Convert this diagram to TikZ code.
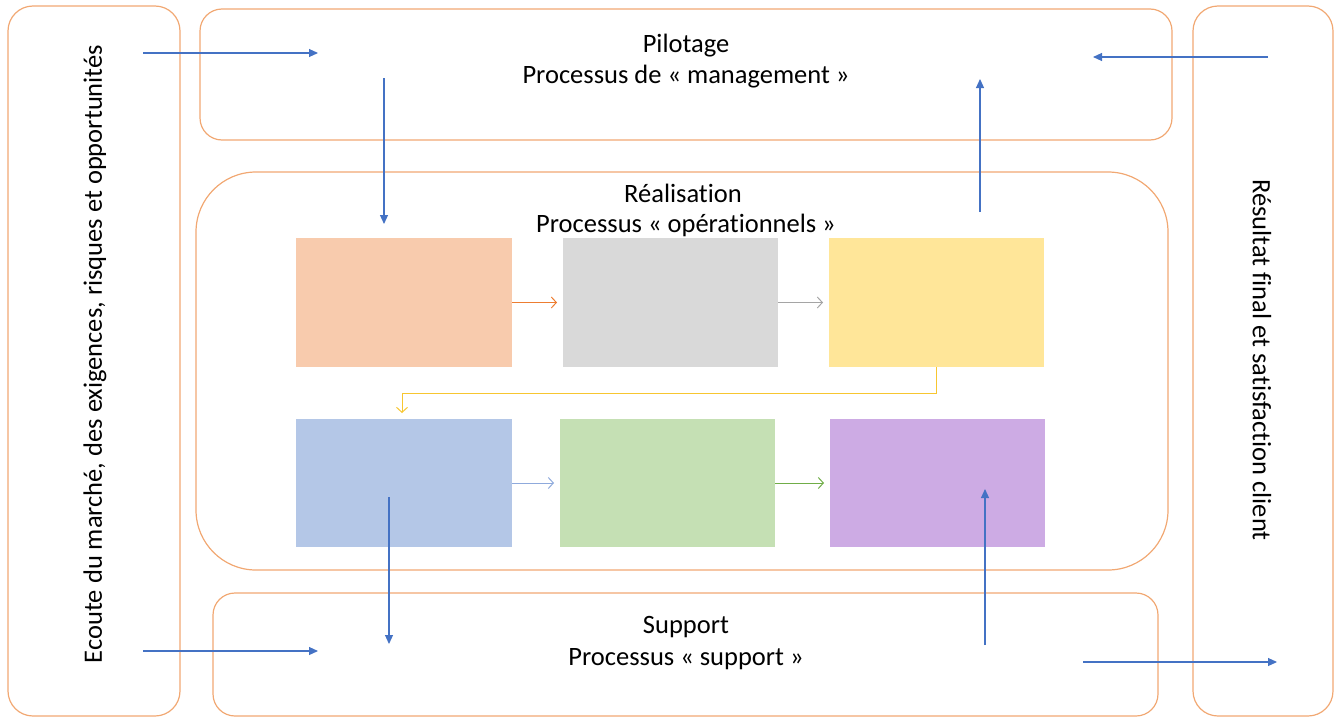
\documentclass[tikz,border=0pt]{standalone}
\usepackage{fontspec}
\setmainfont{Carlito}[Ligatures={NoCommon}]
\usetikzlibrary{arrows.meta}
\definecolor{framec}{HTML}{F1A873}
\definecolor{bluec}{HTML}{4472C4}
\definecolor{c1}{HTML}{F8CBAD}
\definecolor{c2}{HTML}{D9D9D9}
\definecolor{c3}{HTML}{FFE699}
\definecolor{c4}{HTML}{B4C7E7}
\definecolor{c5}{HTML}{C5E0B4}
\definecolor{c6}{HTML}{CDABE4}
\definecolor{a1c}{HTML}{ED7D31}
\definecolor{a2c}{HTML}{A5A5A5}
\definecolor{a3c}{HTML}{F7C630}
\definecolor{a4c}{HTML}{8FAADC}
\definecolor{a5c}{HTML}{70AD47}
\begin{document}
\begin{tikzpicture}[x=1pt,y=-1pt,
  frame/.style={draw=framec, line width=1.2pt, rounded corners=#1, inner sep=0pt, outer sep=0pt},
  proc/.style={fill=#1, draw=none, inner sep=0pt, outer sep=0pt, minimum height=129pt},
  lbl/.style={font=\fontsize{26.5}{31}\selectfont, inner sep=0pt},
  flow/.style={draw=#1, line width=1pt, -{Straight Barb[length=5pt,width=11pt]}},
  ctrl/.style={draw=bluec, line width=1.1pt, -{Triangle[length=9pt,width=8pt]}}]
\useasboundingbox (0,0) rectangle (1340,720);
% frames
\node[frame=25pt, minimum width=172pt, minimum height=710pt] (left) at (94,361) {};
\node[frame=25pt, minimum width=140pt, minimum height=710pt] (right) at (1263,361) {};
\node[frame=22pt, minimum width=972pt, minimum height=131pt] (top) at (686,74.5) {};
\node[frame=60pt, minimum width=972pt, minimum height=398pt] (mid) at (682,371) {};
\node[frame=22pt, minimum width=945pt, minimum height=123pt] (bot) at (685.5,654.5) {};
% texts
\node[lbl, rotate=90] (tleft) at (95,354) {Ecoute du marché, des exigences, risques et opportunités};
\node[lbl, rotate=-90] (tright) at (1262,360) {Résultat final et satisfaction client};
\node[lbl] (ttop1) at (686,46) {Pilotage};
\node[lbl] (ttop2) at (686,77) {Processus de « management »};
\node[lbl] (tmid1) at (683,193) {Réalisation};
\node[lbl] (tmid2) at (686,225) {Processus « opérationnels »};
\node[lbl] (tbot1) at (686,627) {Support};
\node[lbl] (tbot2) at (686,659) {Processus « support »};
% process boxes
\node[proc=c1, minimum width=216pt] (b1) at (404,302.5) {};
\node[proc=c2, minimum width=215pt] (b2) at (670.5,302.5) {};
\node[proc=c3, minimum width=215pt] (b3) at (936.5,302.5) {};
\node[proc=c4, minimum width=216pt, minimum height=128pt] (b4) at (404,483) {};
\node[proc=c5, minimum width=215pt, minimum height=128pt] (b5) at (667.5,483) {};
\node[proc=c6, minimum width=215pt, minimum height=128pt] (b6) at (937.5,483) {};
% process flow
\draw[flow=a1c] (b1.east) -- ([xshift=-6pt]b2.west);
\draw[flow=a2c] (b2.east) -- ([xshift=-6pt]b3.west);
\draw[flow=a3c] (b3.south) -- (b3.south |- 0,393) -| ([xshift=-2pt,yshift=6pt]b4.north);
\draw[flow=a4c] (b4.east) -- ([xshift=-6pt]b5.west);
\draw[flow=a5c] (b5.east) -- ([xshift=-6pt]b6.west);
% control arrows
\coordinate (p1s) at (143,53);  \coordinate (p1e) at (318,53);
\coordinate (p2s) at (384,78);  \coordinate (p2e) at (384,224);
\coordinate (p3s) at (980,212); \coordinate (p3e) at (980,79);
\coordinate (p4s) at (1268,57); \coordinate (p4e) at (1093,57);
\coordinate (p5s) at (389,497); \coordinate (p5e) at (389,644);
\coordinate (p6s) at (985,645); \coordinate (p6e) at (985,489);
\coordinate (p7s) at (143,651); \coordinate (p7e) at (318,651);
\coordinate (p8s) at (1083,662); \coordinate (p8e) at (1277,662);
\draw[ctrl] (p1s) -- (p1e);
\draw[ctrl] (p2s) -- (p2e);
\draw[ctrl] (p3s) -- (p3e);
\draw[ctrl] (p4s) -- (p4e);
\draw[ctrl] (p5s) -- (p5e);
\draw[ctrl] (p6s) -- (p6e);
\draw[ctrl] (p7s) -- (p7e);
\draw[ctrl] (p8s) -- (p8e);
\end{tikzpicture}
\end{document}
